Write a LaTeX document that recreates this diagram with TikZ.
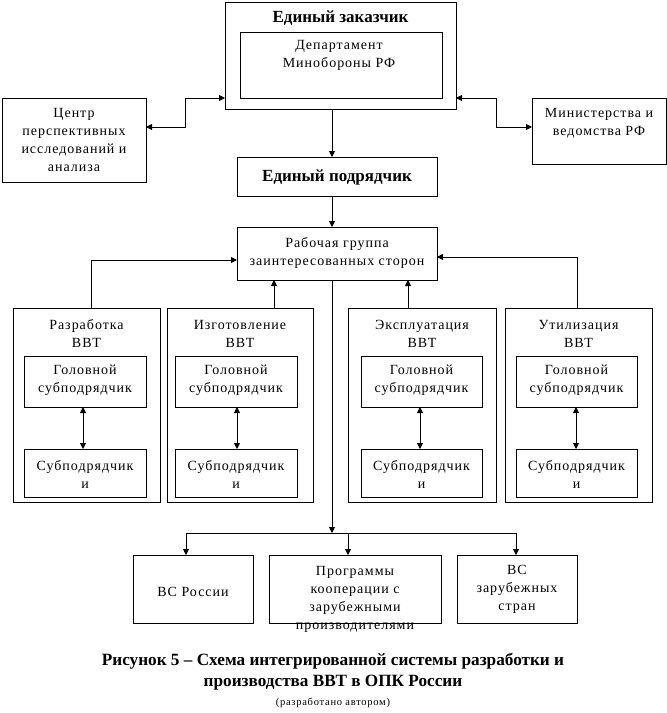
\documentclass[tikz,border=0pt]{standalone}
\usepackage{fontspec}
\setmainfont{Liberation Serif}
\newfontfamily\spfont[LetterSpace=7]{Liberation Serif}
\usetikzlibrary{arrows.meta}
\newcommand\bx[5]{\node[box, minimum width={#4-#2}, minimum height={#5-#3}] (#1) at ({(#2+#4)/2},{-(#3+#5)/2}) {};}
\begin{document}
\begin{tikzpicture}[x=1pt,y=1pt,
 box/.style={draw, line width=0.9pt, inner sep=0pt, outer sep=0pt},
 txt/.style={font=\fontsize{14}{18}\selectfont\spfont, align=center, inner sep=0pt},
 btxt/.style={font=\fontsize{17}{20}\selectfont\bfseries, inner sep=0pt},
 ln/.style={line width=0.9pt},
 arr/.style={line width=0.9pt, -{Triangle[length=6pt,width=6pt]}},
 darr/.style={line width=0.9pt, {Triangle[length=6pt,width=6pt]}-{Triangle[length=6pt,width=6pt]}}]
\useasboundingbox (0,0) rectangle (667,-713);

% top level
\bx{zak}{225}{2}{456}{109}
\node[btxt] (zakt) at (340.5,-18) {Единый заказчик};
\bx{dep}{240}{32}{442}{98}
\node[txt] (dept) at (339,-55) {Департамент\\Минобороны РФ};
\bx{cen}{2}{98}{146}{182}
\node[txt] (cent) at (74,-140) {Центр\\перспективных\\исследований и\\анализа};
\bx{min}{532}{98}{666}{164}
\node[txt] (mint) at (599,-123) {Министерства и\\ведомства РФ};
\bx{pod}{237}{157}{437}{196}
\node[btxt] (podt) at (337,-177) {Единый подрядчик};
\bx{rab}{237}{227}{437}{280}
\node[txt] (rabt) at (337,-253) {Рабочая группа\\заинтересованных сторон};

% groups
\bx{razr}{13}{308}{160}{502}
\bx{izg}{167}{308}{313}{502}
\bx{expl}{348}{308}{496}{502}
\bx{util}{505}{308}{652}{502}
\node[txt] (razrt) at (86.5,-333.5) {Разработка\\ВВТ};
\node[txt] (izgt) at (240,-333.5) {Изготовление\\ВВТ};
\node[txt] (explt) at (422,-333.5) {Эксплуатация\\ВВТ};
\node[txt] (utilt) at (578.5,-333.5) {Утилизация\\ВВТ};

\bx{g1}{24}{356}{146}{407}
\bx{g2}{175}{356}{297}{407}
\bx{g3}{361}{356}{482}{407}
\bx{g4}{516}{356}{637}{407}
\bx{s1}{24}{449}{146}{497}
\bx{s2}{175}{449}{297}{497}
\bx{s3}{361}{449}{482}{497}
\bx{s4}{516}{449}{637}{497}
\foreach \n/\x in {1/85,2/236,3/421.5,4/576.5}{
  \node[txt] (gt\n) at (\x,-380) {Головной\\субподрядчик};
  \node[txt] (st\n) at (\x,-474) {Субподрядчик\\и};
}

% bottom
\bx{vs}{133}{555}{253}{623}
\bx{prog}{269}{555}{441}{623}
\bx{vsz}{457}{555}{577}{623}
\node[txt] (vst) at (193,-592) {ВС России};
\node[txt] (progt) at (355,-599) {Программы\\кооперации с\\зарубежными\\производителями};
\node[txt] (vszt) at (517,-589) {ВС\\зарубежных\\стран};

% caption
\node[font=\fontsize{17.2}{21}\selectfont\bfseries, align=center, inner sep=0pt] (cap) at (333,-672) {Рисунок 5 -- Схема интегрированной системы разработки и\\производства ВВТ в ОПК России};
\node[font=\fontsize{10.5}{12}\selectfont\spfont, inner sep=0pt] (capb) at (333,-703) {(разработано автором)};

% coordinates
\coordinate (kx) at (332,0);
\coordinate (k5) at (185,-98);
\coordinate (k6) at (0,-127);
\coordinate (k7) at (496,-98);
\coordinate (k1) at (91,-260);
\coordinate (k2) at (274,0);
\coordinate (k3) at (408,0);
\coordinate (k4) at (577,-257);
\coordinate (hub) at (332,-533);
\coordinate (a1) at (186,-533);
\coordinate (a2) at (348,-533);
\coordinate (a3) at (516,-533);
\coordinate (d1) at (83,0);
\coordinate (d2) at (237,0);
\coordinate (d3) at (420,0);
\coordinate (d4) at (576,0);

% connectors
\draw[darr] (cen.east |- k6) -| (k5) -- (zak.west |- k5);
\draw[darr] (zak.east |- k7) -- (k7) |- (min.west |- k6);
\draw[arr] (zak.south -| kx) -- (pod.north -| kx);
\draw[arr] (pod.south -| kx) -- (rab.north -| kx);
\draw[arr] (razr.north -| k1) |- (rab.west |- k1);
\draw[arr] (izg.north -| k2) -- (rab.south -| k2);
\draw[arr] (expl.north -| k3) -- (rab.south -| k3);
\draw[arr] (util.north -| k4) |- (rab.east |- k4);
\draw[darr] (g1.south -| d1) -- (s1.north -| d1);
\draw[darr] (g2.south -| d2) -- (s2.north -| d2);
\draw[darr] (g3.south -| d3) -- (s3.north -| d3);
\draw[darr] (g4.south -| d4) -- (s4.north -| d4);
\draw[arr] (rab.south -| kx) -- (hub);
\draw[ln] (a1) -- (a3);
\draw[arr] (a1) -- (vs.north -| a1);
\draw[arr] (a2) -- (prog.north -| a2);
\draw[arr] (a3) -- (vsz.north -| a3);
\end{tikzpicture}
\end{document}
